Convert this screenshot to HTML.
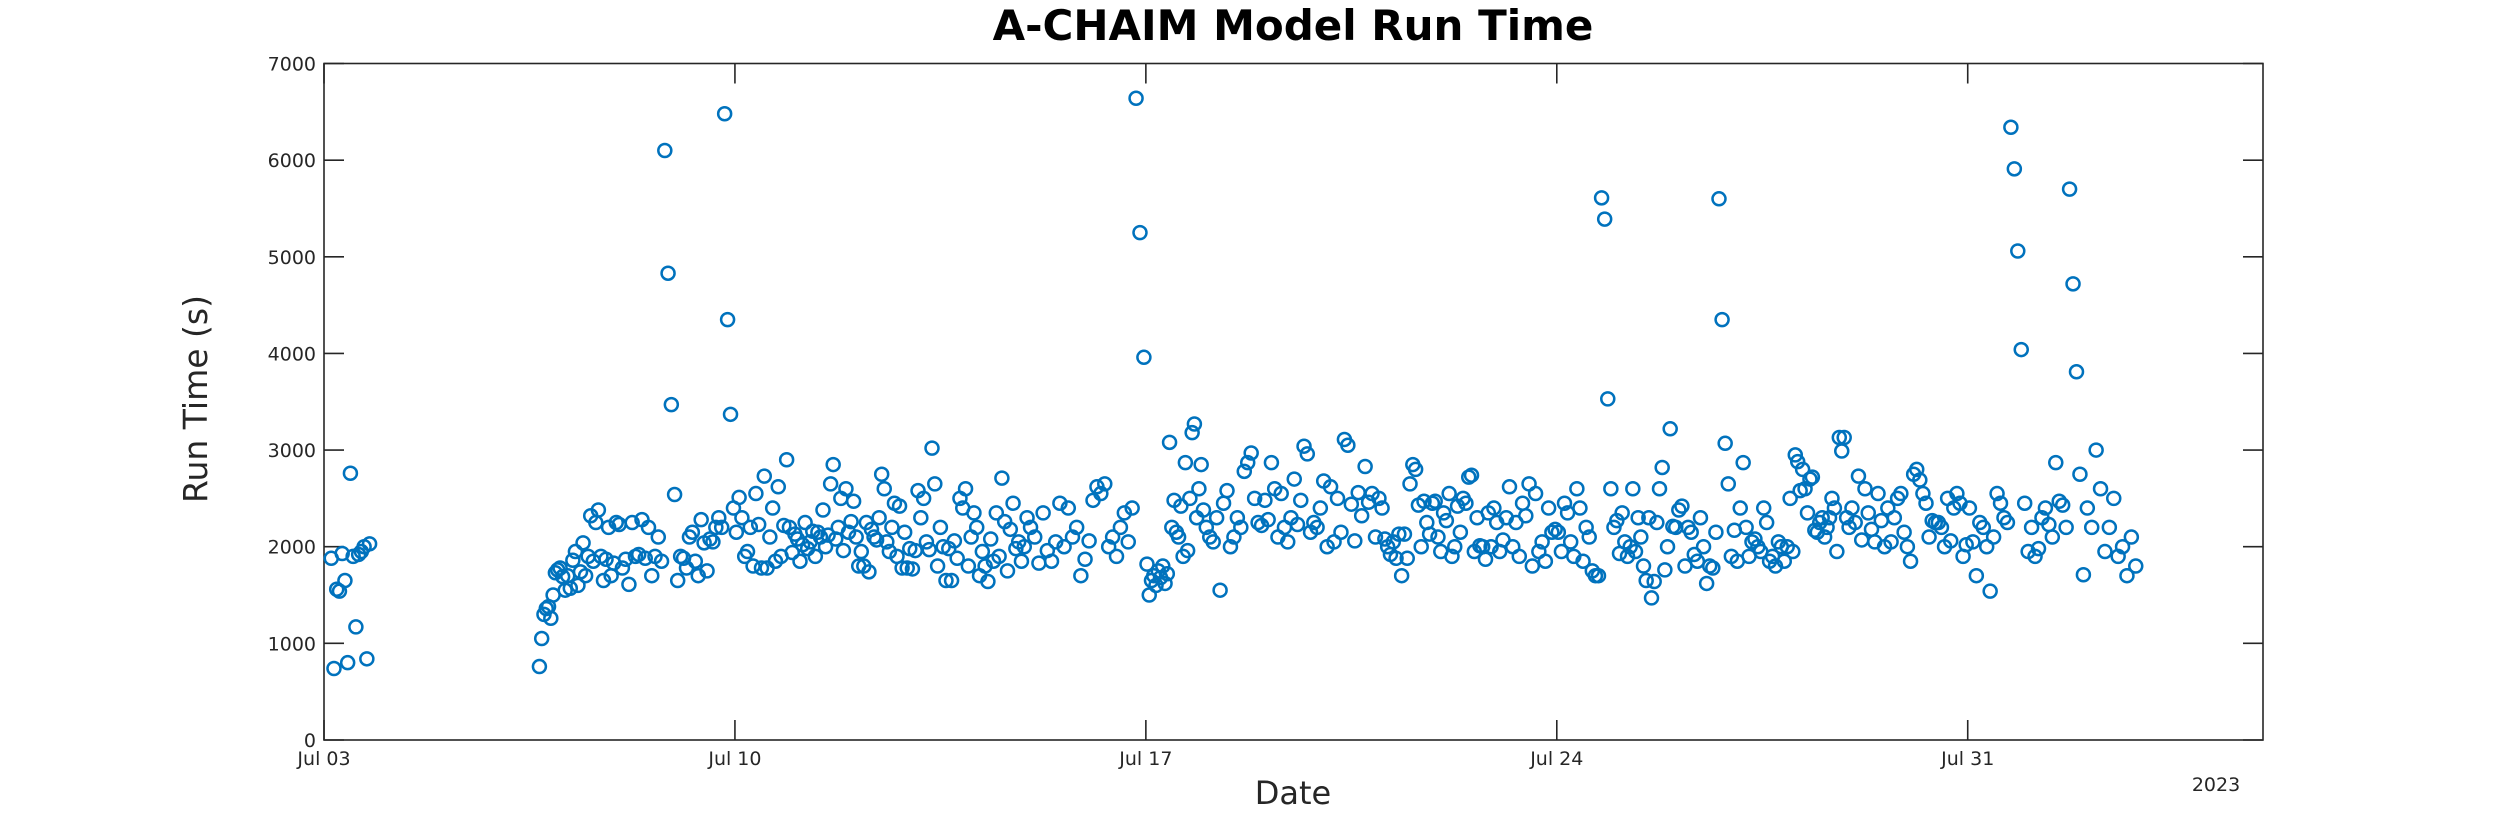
<!DOCTYPE html>
<html><head><meta charset="utf-8"><style>
html,body{margin:0;padding:0;background:#fff;}
svg{display:block;font-family:"DejaVu Sans","Liberation Sans",sans-serif;}
</style></head><body>
<svg id="chart" width="2500" height="833" viewBox="0 0 2500 833" xmlns="http://www.w3.org/2000/svg">
<rect width="2500" height="833" fill="#fff"/>
<text x="1293" y="40" font-size="42" font-weight="bold" text-anchor="middle" fill="#000">A-CHAIM Model Run Time</text>
<g id="axes"></g>
<g id="marks"></g>
<text transform="translate(207,399) rotate(-90)" font-size="33" text-anchor="middle" fill="#262626">Run Time (s)</text>
<text x="1293" y="804" font-size="32" text-anchor="middle" fill="#262626">Date</text>
<text x="2216" y="791" font-size="19" text-anchor="middle" fill="#262626">2023</text>
</svg>
<script>
const yTicks = [0,1000,2000,3000,4000,5000,6000,7000];
const xTickDays = [0,7,14,21,28];
const xTickLabels = ["Jul 03","Jul 10","Jul 17","Jul 24","Jul 31"];
const chunkStart = [0.1,3.65,4,5,6,7,8,9,10,11,12,13,14,15,16,17,18,19,20,21,22,23,24,25,26,27,28,29,30];
const chunkEnd   = [0.8,4,5,6,7,8,9,10,11,12,13,14,15,16,17,18,19,20,21,22,23,24,25,26,27,28,29,30,30.9];
const chunkValues = [
[1880,740,1560,1540,1930,1650,800,2760,1900,1170,1920,1950,2000,840,2030],
[760,1050,1300,1360,1380,1260,1500,1730,1760],
[1780,1690,1550,1700,1570,1860,1950,1600,1740,2040,1700,1900,2320,1850,2250,2380,1900,1650,1870,2200,1700,1830,2250],
[2230,1780,1870,1610,2250,1900,1920,2280,1880,2200,1700,1900,2100,1850,6100,4830,3470,2540],
[1650,1900,1880,1780,2100,2150,1850,1700,2280,2040,1750,2080,2050,2200,2300,2200,6480,4350,3370,2400],
[2150,2510,2300,1900,1950,2200,1800,2550,2230,1780,2730,1780,2100,2400,1850,2620,1900,2220,2900,2200,1940],
[2130,2080,1850,2020,2250,1980,2050,2160,1900,2150,2100,2380,2000,2120,2650,2850,2080,2200,2500,1960,2600,2150,2260],
[2470,2100,1800,1950,1800,2250,1740,2180,2100,2070,2300,2750,2600,2050,1950,2200,2450,1900,2420,1780,2150,1780,1980],
[1770,1960,2580,2300,2500,2050,1970,3020,2650,1800,2200,2000,1650,1980,1650,2060,1880,2500,2400,2600,1800],
[2100,2350,2200,1700,1950,1800,1640,2080,1850,2350,1900,2710,2260,1750,2180,2450,1980,2050,1850,2000,2300],
[2200,2100,1830,2350,1960,1850,2050,2450,2000,2400,2100,2200,1700,1870],
[2060,2480,2620,2550,2650,2000,2100,1900,2200,2350,2050,2400,6640,5250,3960],
[1820,1500,1650,1700,1600,1750,1680,1800,1620,1720,3080,2200,2480,2150,2100,2420,1900,2870,1960,2500,3180,3270,2300,2600,2850,2380],
[2200,2100,2050,2300,1550,2450,2580,2000,2100,2300,2200,2780,2870,2970,2500,2250,2220],
[2480,2280,2870,2600,2100,2550,2200,2050,2300,2700,2230,2480,3040,2960,2150,2250,2200,2400],
[2680,2000,2620,2050,2500,2150,3110,3050,2440,2060,2560,2320,2830,2460,2550,2100,2500],
[2400,2080,2000,1920,2050,1880,2130,1700,2130,1880,2650,2850,2800,2430,2000,2470,2250,2130,2450,2470,2100],
[1950,2350,2270,2550,1900,2000,2420,2150,2500,2450,2720,2740,1950,2300,2010,2000,1870,2350,2000,2400,2250],
[1950,2070,2300,2620,2000,2250,1900,2450,2320,2650,1800,2550,1950,2050,1850,2400,2150,2180],
[2150,1950,2450,2350,2050,1900,2600,2400,1850,2200,2100,1750,1700,1700,5610,5390,3530,2600,2200],
[2270,1930,2350,2050,1900,2000,2600,1950,2300,2100,1800,1650,2300,1470,1640,2250,2600,2820,1760,2000,3220,2210],
[2200,2380,2420,1800,2200,2150,1920,1850,2300,2000,1620,1800,1780,2150,5600,4350,3070,2650,1900],
[2170,1850,2400,2870,2200,1900,2050,2080,2000,1950,2400,2250,1850,1900,1800,2050,2000,1850,2000,2500],
[1950,2950,2880,2580,2800,2600,2350,2700,2720,2170,2150,2250,2300,2100,2200,2300,2500,2400,1950,3130,2990,3130,2300,2200],
[2400,2250,2730,2070,2600,2350,2180,2050,2550,2270,2000,2400,2050,2300,2500,2550,2150,2000],
[1850,2750,2800,2690,2550,2450,2100,2270,2250,2250,2200,2000,2500,2060,2400,2550,2450,1900,2020],
[2400,2050,1700,2250,2200,2000,1540,2100,2550,2450,2300,2250,6340,5910,5060,4040,2450],
[1950,2200,1900,1980,2300,2400,2230,2100,2870,2470,2430,2200,5700,4720,3810,2750,1710],
[2400,2200,3000,2600,1950,2200,2500,1900,2000,1700,2100,1800]
];
const NS="http://www.w3.org/2000/svg";
const L=324, R=2263, T=63.5, B=740, dayMax=33.03, yMax=7000;
function xs(d){return L+(R-L)*d/dayMax;}
function ys(v){return B-(B-T)*v/yMax;}
function mk(tag,attrs,parent){const e=document.createElementNS(NS,tag);for(const k in attrs)e.setAttribute(k,attrs[k]);parent.appendChild(e);return e;}
const axes=document.getElementById('axes');
const box=mk('rect',{x:L,y:T,width:R-L,height:B-T,fill:'none',stroke:'#262626','stroke-width':1.6},axes);


yTicks.forEach(v=>{
  const y=ys(v);
  mk('line',{x1:L,x2:L+20,y1:y,y2:y,stroke:'#262626','stroke-width':1.6},axes);
  mk('line',{x1:R,x2:R-20,y1:y,y2:y,stroke:'#262626','stroke-width':1.6},axes);
  const t=mk('text',{x:L-8,y:y+7,'font-size':19,'text-anchor':'end',fill:'#262626'},axes);
  t.textContent=v;
  
  
});
xTickDays.forEach((d,i)=>{
  const x=xs(d);
  mk('line',{x1:x,x2:x,y1:B,y2:B-20,stroke:'#262626','stroke-width':1.6},axes);
  mk('line',{x1:x,x2:x,y1:T,y2:T+20,stroke:'#262626','stroke-width':1.6},axes);
  const t=mk('text',{x:x,y:765,'font-size':19,'text-anchor':'middle',fill:'#262626'},axes);
  t.textContent=xTickLabels[i];
  
  
});
const marks=document.getElementById('marks');
chunkValues.forEach((vals,c)=>{
  const s=chunkStart[c], e=chunkEnd[c], n=vals.length;
  vals.forEach((v,i)=>{
    const d=s+(e-s)*(i+0.5)/n;
    const p=mk('circle',{cx:xs(d),cy:ys(v),r:6.5,fill:'none',stroke:'#0072BD','stroke-width':2.5},marks);
    
    
  });
});
</script>
</body></html>
